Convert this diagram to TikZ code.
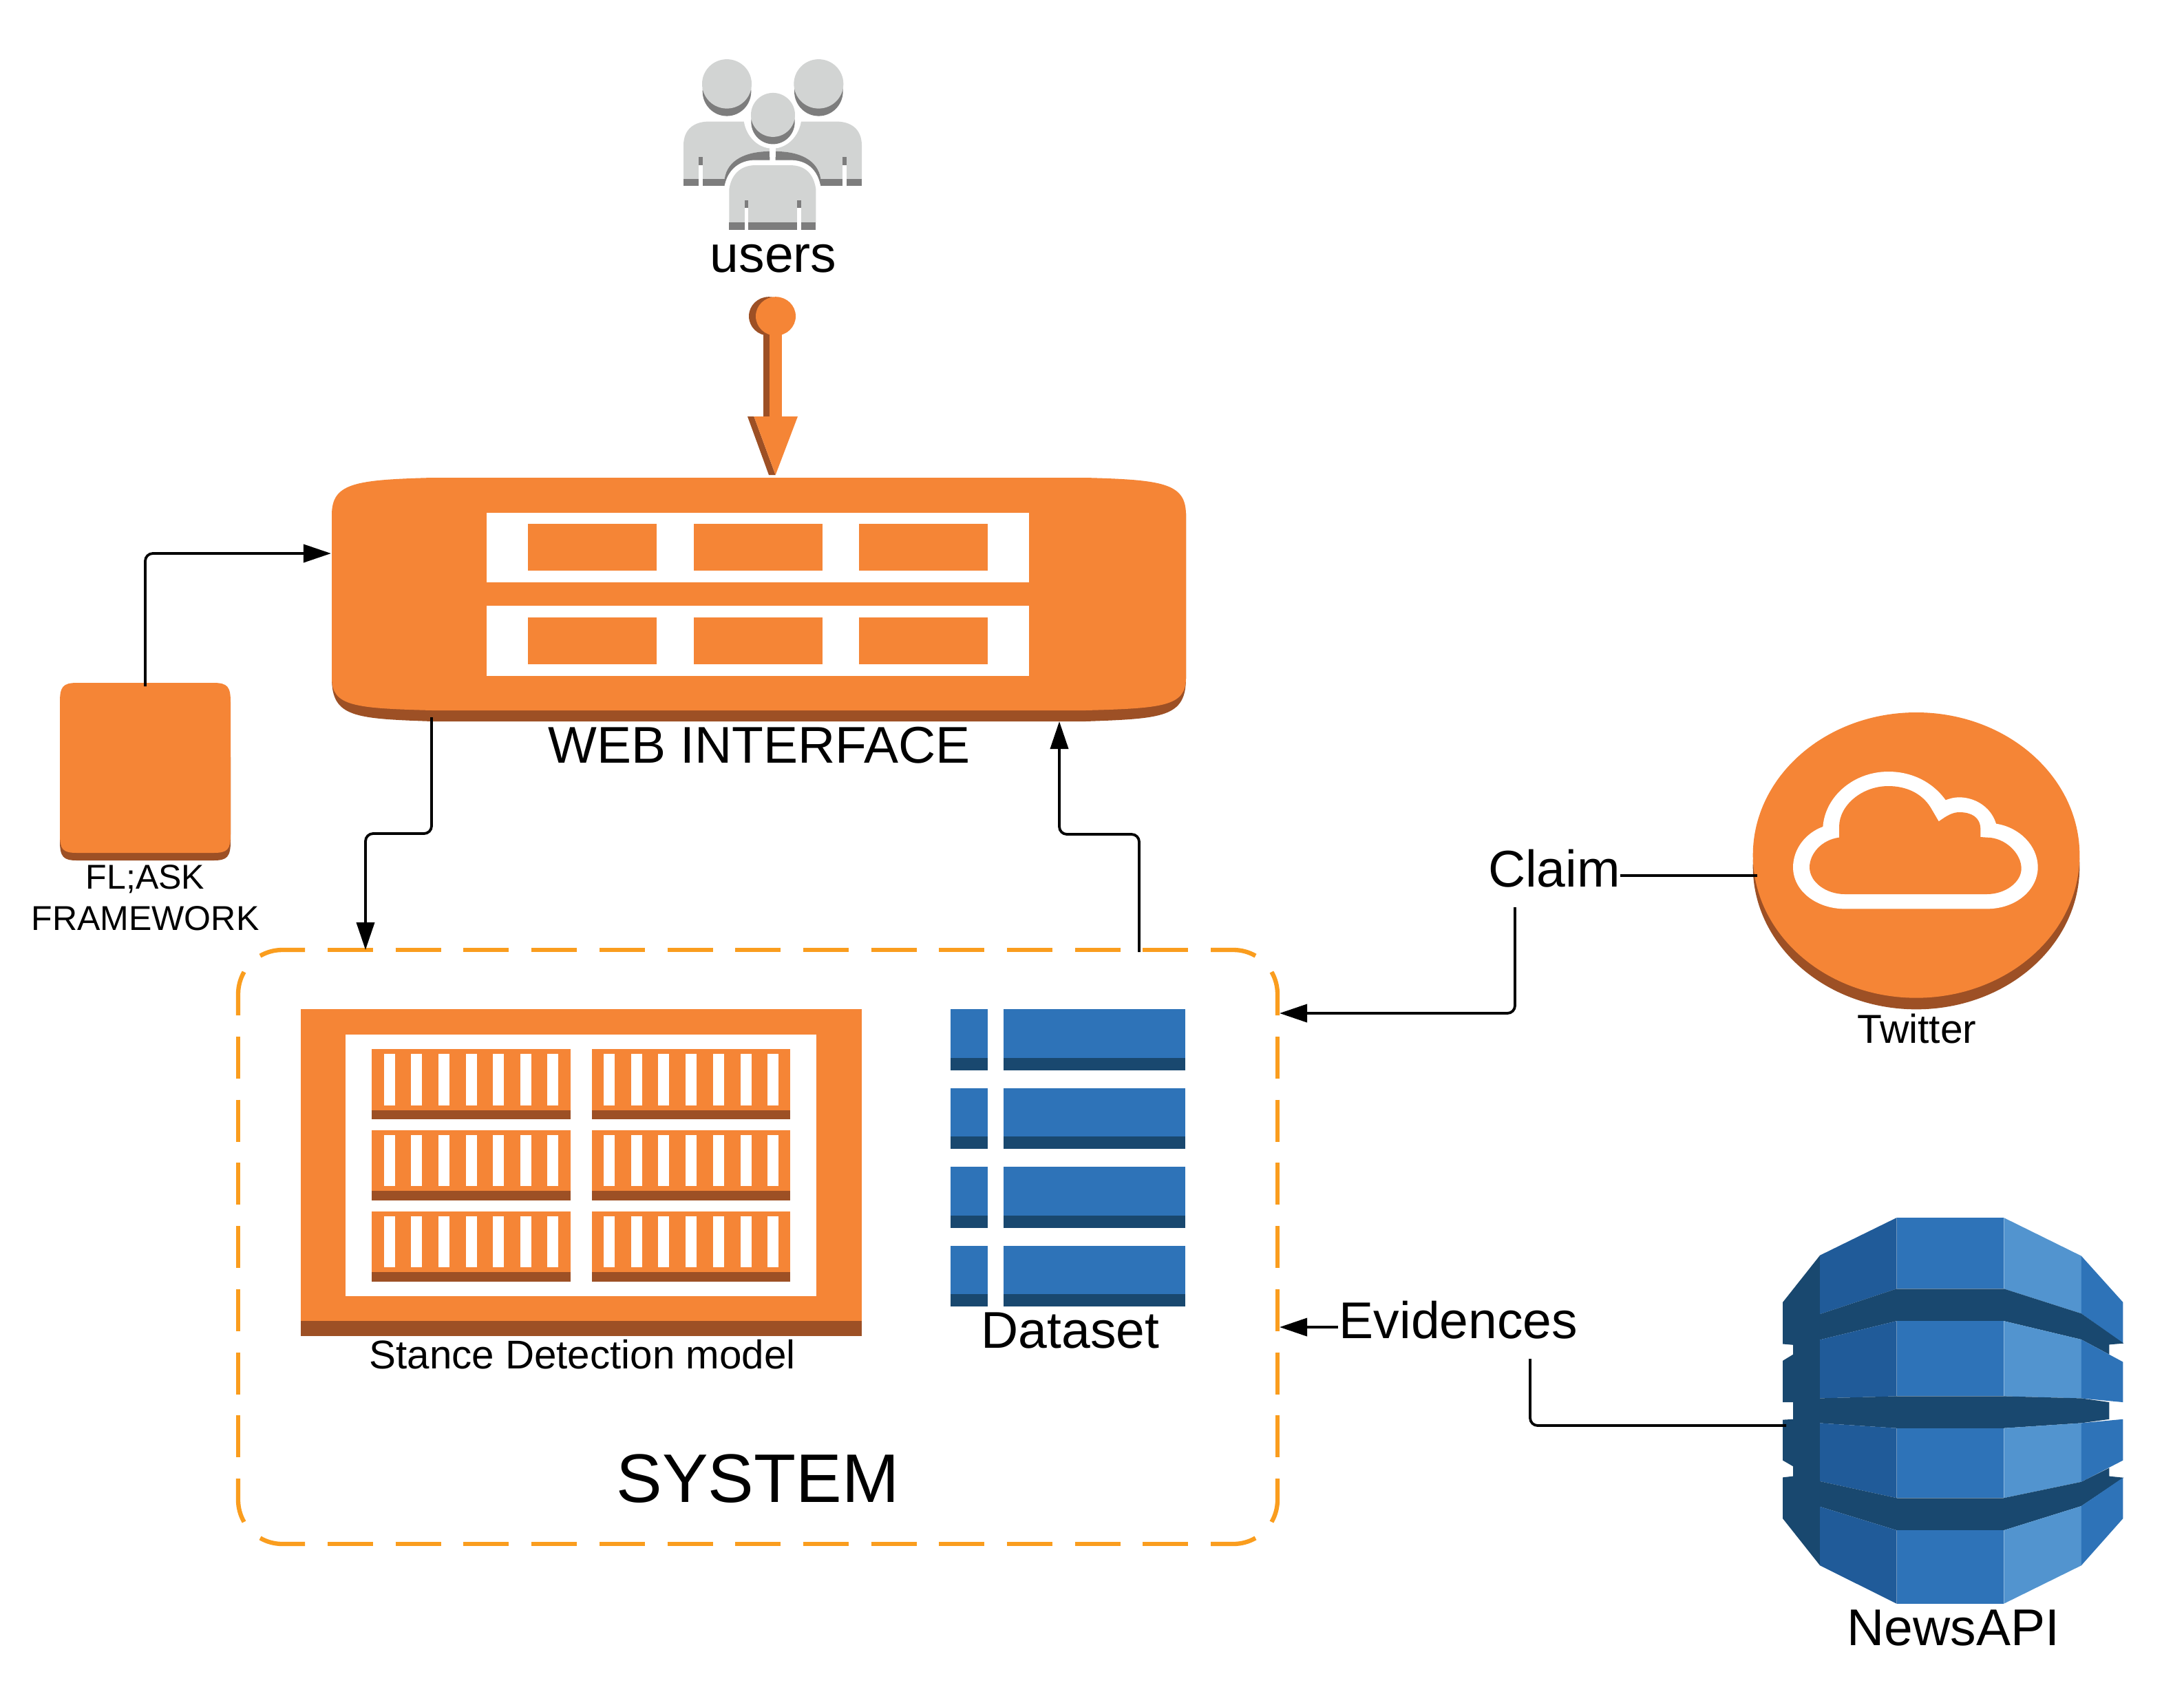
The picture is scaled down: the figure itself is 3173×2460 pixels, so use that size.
\documentclass[tikz,border=0pt]{standalone}
\usepackage{fontspec}
\setmainfont{Liberation Sans}
\usetikzlibrary{arrows.meta,calc}
\definecolor{awsor}{HTML}{F58536}
\definecolor{awsdk}{HTML}{9D5025}
\definecolor{awsbl}{HTML}{2E73B8}
\definecolor{awsnv}{HTML}{19486F}
\definecolor{awsmd}{HTML}{205B99}
\definecolor{awslt}{HTML}{5294CF}
\definecolor{usrlt}{HTML}{D2D4D3}
\definecolor{usrdk}{HTML}{7D7D7D}
\definecolor{dashor}{HTML}{FA9D1E}
\tikzset{
  lab/.style={inner sep=0pt,anchor=base,text=black},
  hit/.style={inner sep=0pt,minimum width=#1,draw=none,fill=none},
  conn/.style={draw=black,line width=0.038cm,rounded corners=0.11cm},
  tipped/.style={conn,-{Triangle[length=0.40cm,width=0.26cm]}},
  dsh/.style={draw=dashor,line width=0.063cm},
}
\newcommand{\fsz}[1]{\fontsize{#1}{#1}\selectfont}
\newcommand{\halfbody}{%
  \fill[usrdk] (159,475) rectangle (338,500);
  \fill[usrlt] (159,475) -- (159,360) .. controls (159,300) and (210,277) .. (270,277)
     -- (535,277) -- (535,380) .. controls (430,380) and (350,410) .. (338,475) -- cycle;
  \fill[usrdk] (535,380) .. controls (430,380) and (350,410) .. (338,475) -- (338,500)
     -- (352,500) -- (358,510) .. controls (370,450) and (420,428) .. (470,428) -- (535,428) -- cycle;
  \fill[white] (225,428) rectangle (242,500);
  \fill[usrdk] (225,400) rectangle (242,428);
}
\begin{document}
\begin{tikzpicture}[x=0.01cm,y=-0.01cm]
\useasboundingbox (0,0) rectangle (3173,2460);
\fill[white] (0,0) rectangle (3173,2460);

% ---------- users and pin arrow
\begin{scope}[shift={(940,60)},xscale=1/3,yscale=1/2.376]
  \halfbody
  \begin{scope}[shift={(1095,0)},xscale=-1]\halfbody\end{scope}
  \fill[white] (547,255) ellipse [x radius=127,y radius=115];
  \fill[white] (535,277) rectangle (560,400);
  \foreach \hx in {348,748}{
    \fill[usrdk] (\hx,173) ellipse [x radius=106,y radius=85];
    \fill[usrlt] (\hx,147) ellipse [x radius=108,y radius=85];
  }
  \fill[usrdk] (549,279) ellipse [x radius=95,y radius=76];
  \fill[usrlt] (549,254) ellipse [x radius=96,y radius=76];
  \draw[white,line width=0.15cm] (358,650) -- (358,510) .. controls (370,450) and (420,428) .. (470,428)
     -- (625,428) .. controls (680,428) and (725,450) .. (736,510) -- (736,650);
  \fill[usrlt] (358,625) -- (358,510) .. controls (370,450) and (420,428) .. (470,428)
     -- (625,428) .. controls (680,428) and (725,450) .. (736,510) -- (736,625) -- cycle;
  \fill[usrdk] (358,625) rectangle (736,650);
  \fill[white] (425,576) rectangle (441,650);
  \fill[usrdk] (425,549) rectangle (441,576);
  \fill[white] (655,576) rectangle (672,650);
  \fill[usrdk] (655,549) rectangle (672,576);
  % pin
  \fill[awsdk] (531,949) ellipse [x radius=87,y radius=67];
  \fill[awsdk] (507,1000) rectangle (535,1295);
  \fill[awsor] (561,949) ellipse [x radius=87,y radius=67];
  \fill[awsor] (535,1000) rectangle (587,1295);
  \fill[awsdk] (438,1295) -- (466,1295) -- (560,1497) -- (531,1497) -- cycle;
  \fill[awsor] (466,1295) -- (657,1295) -- (560,1497) -- cycle;
\end{scope}
\node[lab,font=\fsz{21.34}] (users) at (1123.5,395) {users};

% ---------- web interface
\fill[awsdk] (628,710) -- (1577,710) -- (1723,745) -- (1723,985)
   .. controls (1723,1042) and (1690,1044) .. (1577,1048) -- (628,1048)
   .. controls (515,1044) and (482,1042) .. (482,985) -- (482,745) -- cycle;
\fill[awsor] (628,694) -- (1577,694) .. controls (1690,697) and (1723,702) .. (1723,748)
   -- (1723,985) .. controls (1723,1026) and (1690,1029) .. (1577,1032) -- (628,1032)
   .. controls (515,1029) and (482,1026) .. (482,985) -- (482,748)
   .. controls (482,702) and (515,697) .. (628,694) -- cycle;
\foreach \ya/\yb/\yc/\yd in {745/761/829/846,880/897/965/982}{
  \fill[white] (707,\ya) rectangle (1495,\yd);
  \fill[awsor] (767,\yb) rectangle (954,\yc);
  \fill[awsor] (1008,\yb) rectangle (1195,\yc);
  \fill[awsor] (1248,\yb) rectangle (1435,\yc);
}
\node[hit=12.41cm,minimum height=3.54cm] (web) at (1102.5,871) {};
\node[lab,font=\fsz{21.33}] (weblab) at (1103,1108) {WEB INTERFACE};

% ---------- flask box
\fill[awsdk] (112,1100) -- (87,1100) -- (87,1222) .. controls (87,1245) and (92,1250) .. (112,1250)
   -- (310,1250) .. controls (330,1250) and (335,1245) .. (335,1222) -- (335,1100) -- cycle;
\fill[awsor] (112,992) -- (310,992) .. controls (331,992) and (335,998) .. (335,1020)
   -- (335,1212) .. controls (335,1234) and (331,1239) .. (310,1239) -- (112,1239)
   .. controls (91,1239) and (87,1234) .. (87,1212) -- (87,1020)
   .. controls (87,998) and (91,992) .. (112,992) -- cycle;
\node[hit=2.48cm,minimum height=2.58cm] (flask) at (211,1121) {};
\node[lab,font=\fsz{14.23}] (flaska) at (211,1291) {FL;ASK};
\node[lab,font=\fsz{14.23}] (flaskb) at (211,1351) {FRAMEWORK};

% ---------- system box
\node[hit=15.10cm,minimum height=8.63cm] (system) at (1101,1811.5) {};
\foreach \k in {0,...,12}{
  \pgfmathsetmacro{\xa}{476+98.7*\k}
  \pgfmathsetmacro{\xb}{\xa+66}
  \draw[dsh] (\xa,1380) -- (\xb,1380);
  \draw[dsh] (\xa,2243) -- (\xb,2243);
}
\foreach \k in {0,...,6}{
  \pgfmathsetmacro{\ya}{1506+91.7*\k}
  \pgfmathsetmacro{\yb}{\ya+61}
  \draw[dsh] (346,\ya) -- (346,\yb);
  \draw[dsh] (1856,\ya) -- (1856,\yb);
}
\draw[dsh] (1759,1380) -- (1792,1380) arc[start angle=-90,end angle=-60,radius=64];
\draw[dsh] (1847.4,1412) arc[start angle=-30,end angle=0,radius=64] -- (1856,1475);
\draw[dsh] (443,1380) -- (410,1380) arc[start angle=-90,end angle=-120,radius=64];
\draw[dsh] (354.6,1412) arc[start angle=-150,end angle=-180,radius=64] -- (346,1475);
\draw[dsh] (1856,2148) -- (1856,2179) arc[start angle=0,end angle=30,radius=64];
\draw[dsh] (1824,2234.4) arc[start angle=60,end angle=90,radius=64] -- (1759,2243);
\draw[dsh] (346,2148) -- (346,2179) arc[start angle=180,end angle=150,radius=64];
\draw[dsh] (378,2234.4) arc[start angle=120,end angle=90,radius=64] -- (443,2243);
\node[lab,font=\fsz{28.4}] (systemlab) at (1101,2182) {SYSTEM};

% ---------- stance detection model
\begin{scope}[shift={(420,1440)},xscale=1/1.742,yscale=1/3]
  \fill[awsdk] (30,1400) rectangle (1450,1503);
  \fill[awsor] (30,78) rectangle (1450,1437);
  \fill[white] (143,189) rectangle (1335,1329);
  \foreach \ry in {253,606,959}{
    \pgfmathsetmacro{\rb}{\ry+265}
    \pgfmathsetmacro{\rc}{\ry+306}
    \pgfmathsetmacro{\sa}{\ry+21}
    \pgfmathsetmacro{\sb}{\ry+244}
    \fill[awsor] (209,\ry) rectangle (713,\rb);
    \fill[awsdk] (209,\rb) rectangle (713,\rc);
    \fill[awsor] (766,\ry) rectangle (1269,\rb);
    \fill[awsdk] (766,\rb) rectangle (1269,\rc);
    \foreach \sx in {240,309,378,448,516,585,654,796,866,934,1004,1073,1142,1211}{
      \fill[white] (\sx,\sa) rectangle (\sx+28,\sb);
    }
  }
\end{scope}
\node[lab,font=\fsz{16.58}] (stancelab) at (846,1988) {Stance Detection model};

% ---------- dataset
\begin{scope}[shift={(1340,1440)},xscale=1/3,yscale=1/3]
  \foreach \ra/\rb/\rc in {79/291/345,423/633/688,766/977/1031,1110/1320/1375}{
    \fill[awsbl] (124,\ra) rectangle (286,\rb);
    \fill[awsnv] (124,\rb) rectangle (286,\rc);
    \fill[awsbl] (354,\ra) rectangle (1147,\rb);
    \fill[awsnv] (354,\rb) rectangle (1147,\rc);
  }
\end{scope}
\node[lab,font=\fsz{21.34}] (datalab) at (1555,1958) {Dataset};

% ---------- twitter
\begin{scope}[shift={(2520,1020)},xscale=1/3,yscale=1/3]
  \fill[awsdk] (792,717) ellipse [x radius=712,y radius=622];
  \fill[awsor] (792,667) ellipse [x radius=712,y radius=622];
  \fill[white] (480,901) -- (1100,901) .. controls (1230,901) and (1322,815) .. (1322,720)
     .. controls (1322,625) and (1240,545) .. (1140,530)
     .. controls (1115,450) and (1040,415) .. (980,415)
     .. controls (955,415) and (940,420) .. (920,427)
     .. controls (860,345) and (770,303) .. (670,303)
     .. controls (520,303) and (395,410) .. (385,543)
     .. controls (310,570) and (255,640) .. (255,720)
     .. controls (255,825) and (360,901) .. (480,901) -- cycle;
  \fill[awsor] (480,837) -- (1100,837) .. controls (1180,837) and (1250,785) .. (1250,725)
     .. controls (1250,660) and (1180,590) .. (1100,590) -- (1072,588) -- (1072,555)
     .. controls (1072,500) and (1030,480) .. (980,480)
     .. controls (950,480) and (925,495) .. (890,520) -- (855,460)
     .. controls (815,395) and (745,366) .. (670,366)
     .. controls (555,366) and (456,450) .. (456,543) -- (456,590)
     .. controls (380,600) and (327,660) .. (327,720)
     .. controls (327,785) and (400,837) .. (480,837) -- cycle;
\end{scope}
\node[lab,font=\fsz{16.7}] (twitterlab) at (2785,1515) {Twitter};
\node[lab,font=\fsz{21.34}] (claim) at (2258,1288) {Claim};

% ---------- newsapi
\begin{scope}[shift={(2540,1740)},xscale=1/2.613,yscale=1/2.306]
  \fill[awsnv] (272,193) -- (131,350) -- (131,490) -- (170,493) -- (170,525) -- (131,546)
     -- (131,685) -- (170,685) -- (170,742) -- (131,744) -- (131,880) -- (170,900)
     -- (170,933) -- (131,937) -- (131,1075) -- (272,1232) -- cycle;
  % section 1
  \fill[awsmd] (272,193) -- (563,67) -- (563,305) -- (272,390) -- cycle;
  \fill[awsbl] (563,67) -- (970,67) -- (970,305) -- (563,305) -- cycle;
  \fill[awslt] (970,67) -- (1264,195) -- (1264,388) -- (970,305) -- cycle;
  \fill[awsbl] (1264,195) -- (1422,350) -- (1422,488) -- (1264,388) -- cycle;
  % band 1
  \fill[awsnv] (272,390) -- (563,305) -- (970,305) -- (1264,388) -- (1425,488) -- (1370,492)
     -- (1370,525) -- (1264,475) -- (970,413) -- (563,413) -- (272,476) -- cycle;
  % section 2
  \fill[awsmd] (272,476) -- (563,413) -- (563,665) -- (272,672) -- cycle;
  \fill[awsbl] (563,413) -- (970,413) -- (970,665) -- (563,665) -- cycle;
  \fill[awslt] (970,413) -- (1264,475) -- (1264,672) -- (970,665) -- cycle;
  \fill[awsbl] (1264,475) -- (1422,550) -- (1422,685) -- (1264,672) -- cycle;
  % band 2
  \fill[awsnv] (272,672) -- (563,665) -- (970,665) -- (1264,672) -- (1370,685) -- (1370,742)
     -- (1264,755) -- (970,772) -- (563,772) -- (272,755) -- cycle;
  % section 3
  \fill[awsmd] (272,755) -- (563,772) -- (563,1006) -- (272,950) -- cycle;
  \fill[awsbl] (563,772) -- (970,772) -- (970,1006) -- (563,1006) -- cycle;
  \fill[awslt] (970,772) -- (1264,755) -- (1264,952) -- (970,1006) -- cycle;
  \fill[awsbl] (1264,755) -- (1422,742) -- (1422,880) -- (1264,952) -- cycle;
  % band 3
  \fill[awsnv] (272,950) -- (563,1006) -- (970,1006) -- (1264,952) -- (1370,905) -- (1370,933)
     -- (1425,938) -- (1264,1033) -- (970,1114) -- (563,1114) -- (272,1035) -- cycle;
  % section 4
  \fill[awsmd] (272,1035) -- (563,1114) -- (563,1360) -- (272,1232) -- cycle;
  \fill[awsbl] (563,1114) -- (970,1114) -- (970,1360) -- (563,1360) -- cycle;
  \fill[awslt] (970,1114) -- (1264,1033) -- (1264,1232) -- (970,1360) -- cycle;
  \fill[awsbl] (1264,1033) -- (1422,938) -- (1422,1075) -- (1264,1232) -- cycle;
\end{scope}
\node[lab,font=\fsz{21.34}] (newslab) at (2838,2390) {NewsAPI};
\node[lab,font=\fsz{21.34}] (evid) at (2119,1944) {Evidences};

% ---------- connector end points
\coordinate (flaskup) at (211,997);
\coordinate (webin) at (web.west |- 0,804);
\coordinate (webout) at (627,1042);
\coordinate (sysin) at (531,1380);
\coordinate (sysout) at (1655,1383);
\coordinate (webback) at (1539,1048);
\coordinate (twleft) at (2553,1272);
\coordinate (claimr) at (2354,1272);
\coordinate (claimb) at (2201,1318);
\coordinate (sysclaim) at (1859,1472);
\coordinate (evidl) at (1944,1928);
\coordinate (sysevid) at (1859,1928);
\coordinate (evidb) at (2223,1974);
\coordinate (newsl) at (2595,2071);

% ---------- connectors
\draw[tipped] (flaskup) |- (webin);
\draw[tipped] (webout) -- (webout |- 0,1211) -- (sysin |- 0,1211) -- (sysin);
\draw[tipped] (sysout) -- (sysout |- 0,1212) -- (webback |- 0,1212) -- (webback);
\draw[conn] (twleft) -- (claimr);
\draw[tipped] (claimb) |- (sysclaim);
\draw[tipped] (evidl) -- (sysevid);
\draw[conn] (evidb) |- (newsl);
\end{tikzpicture}
\end{document}
